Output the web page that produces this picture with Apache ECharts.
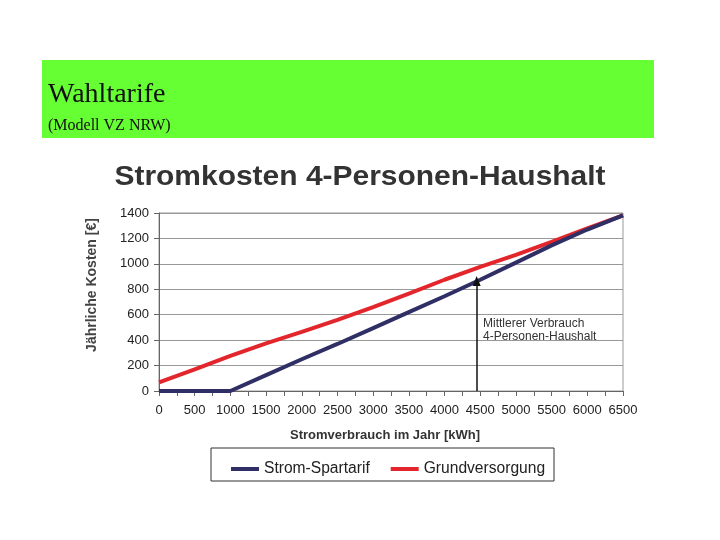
<!DOCTYPE html>
<html><head><meta charset="utf-8">
<script src="https://cdn.jsdelivr.net/npm/echarts@6/dist/echarts.min.js"></script>
<style>html,body{margin:0;padding:0;background:#fff}#c{width:720px;height:540px}</style>
</head><body><div id="c"></div>
<script>
const xValues = [0,500,1000,1500,2000,2500,3000,3500,4000,4500,5000,5500,6000,6500];
const spartarif = [0,0,0,125,250,370,495,620,745,875,1010,1145,1270,1382];
const grundversorgung = [68,170,277,375,465,560,660,765,875,977,1070,1173,1280,1382];
const seriesNames = ['Strom-Spartarif','Grundversorgung'];
const averageUse = 4450;
const averageCost = 866;
const yTicks = {min:0,max:1400,interval:200};
const xTicks = {min:0,max:6500,interval:500};

const chart = echarts.init(document.getElementById('c'));
const font = 'Liberation Sans, Arial, sans-serif';
chart.setOption({
  animation:false,
  backgroundColor:'#fff',
  grid:{left:159,top:213,width:464,height:178,show:true,borderColor:'#999',borderWidth:1,backgroundColor:'transparent'},
  xAxis:{type:'value',min:xTicks.min,max:xTicks.max,interval:xTicks.interval,
    axisLine:{lineStyle:{color:'#666',width:1}},
    axisTick:{show:true,length:5,lineStyle:{color:'#666'}},
    minorTick:{show:true,splitNumber:2,length:5,lineStyle:{color:'#666'}},
    splitLine:{show:false},
    axisLabel:{fontFamily:font,fontSize:13,color:'#222',margin:13,formatter:v=>String(v)}},
  yAxis:{type:'value',min:yTicks.min,max:yTicks.max,interval:yTicks.interval,
    axisLine:{show:true,lineStyle:{color:'#666',width:1}},
    axisTick:{show:true,length:5,lineStyle:{color:'#666'}},
    splitLine:{lineStyle:{color:'#999',width:1}},
    axisLabel:{fontFamily:font,fontSize:13,color:'#222',margin:10,formatter:v=>String(v)}},
  legend:{left:226,top:456,itemGap:21,itemWidth:28,itemHeight:4,icon:'rect',
    textStyle:{fontFamily:font,fontSize:15.6,color:'#222'},
    data:seriesNames},
  series:[
    {name:seriesNames[0],type:'line',data:xValues.map((x,i)=>[x,spartarif[i]]),
      symbol:'none',lineStyle:{color:'#2f2f66',width:4},itemStyle:{color:'#2f2f66'},z:3,
      markLine:{silent:true,symbol:['none','triangle'],symbolSize:[8,10],
        lineStyle:{color:'#111',width:1.5,type:'solid'},label:{show:false},
        data:[[{coord:[averageUse,0]},{coord:[averageUse,averageCost]}]]}},
    {name:seriesNames[1],type:'line',data:xValues.map((x,i)=>[x,grundversorgung[i]]),
      symbol:'none',lineStyle:{color:'#e3262b',width:4},itemStyle:{color:'#e3262b'},z:2}
  ],
  graphic:[
    {type:'rect',shape:{x:42,y:60,width:612,height:78},style:{fill:'#66ff33'},z:-1},
    {type:'text',left:48,top:81,style:{text:'Wahltarife',font:'28px "Liberation Serif", "Times New Roman", serif',fill:'#111'}},
    {type:'text',left:48,top:118,style:{text:'(Modell VZ NRW)',font:'16px "Liberation Serif", "Times New Roman", serif',fill:'#111'}},
    {type:'text',x:360,y:177,scaleX:1.07,style:{text:'Stromkosten 4-Personen-Haushalt',font:'bold 28px "Liberation Sans", Arial, sans-serif',fill:'#333',align:'center',verticalAlign:'middle'}},
    {type:'text',x:92,y:285,rotation:Math.PI/2,style:{text:'Jährliche Kosten [€]',font:'bold 14px "Liberation Sans", Arial, sans-serif',fill:'#444',align:'center',verticalAlign:'middle'}},
    {type:'text',x:385,y:435,style:{text:'Stromverbrauch im Jahr [kWh]',font:'bold 13px "Liberation Sans", Arial, sans-serif',fill:'#333',align:'center',verticalAlign:'middle'}},
    {type:'text',x:483,y:330,style:{text:'Mittlerer Verbrauch\n4-Personen-Haushalt',font:'12px "Liberation Sans", Arial, sans-serif',fill:'#333',lineHeight:13,verticalAlign:'middle',backgroundColor:'#fff'}},
    {type:'rect',shape:{x:211,y:448,width:343,height:33},style:{fill:'none',stroke:'#333',lineWidth:1}}
  ]
});
</script></body></html>
